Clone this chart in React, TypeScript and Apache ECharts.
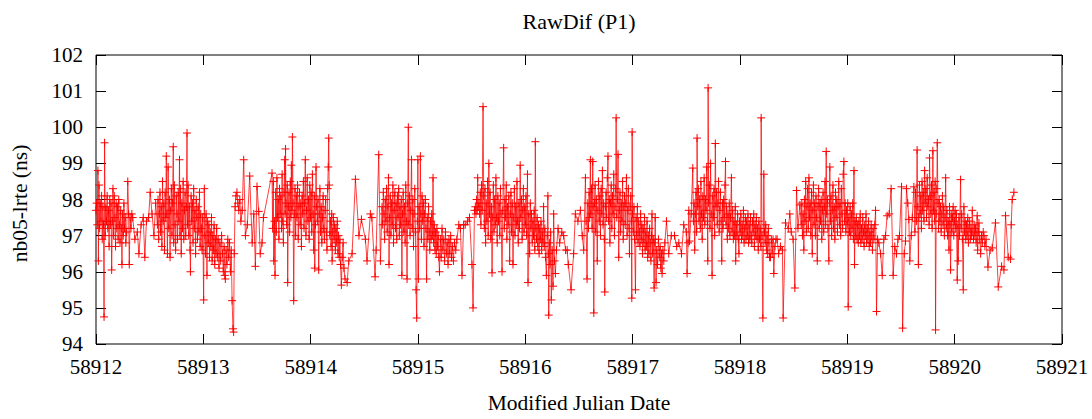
import React, { useEffect, useRef } from "react";
import * as echarts from "echarts";

// Reference epoch (MJD) and axis ranges
const MJD0 = 58912;
const xRange = [58912, 58921];
const yRange = [94, 102];
const title = "RawDif (P1)";
const xTitle = "Modified Julian Date";
const yTitle = "nb05-lrte (ns)";

// [days since MJD0, value in ns]
const day0 = [
  [0.000,97.7],[0.006,97.9],[0.012,97.3],[0.018,98.8],[0.022,96.3],[0.028,98.4],[0.034,97.2],[0.040,97.9],[0.046,97.4],[0.052,98.1],[0.058,96.9],[0.064,97.8],[0.070,97.3],[0.075,94.75],[0.080,99.57],[0.086,97.0],[0.092,97.8],[0.098,97.4],[0.104,98.1],[0.110,97.2],[0.116,97.7],[0.122,96.7],[0.128,98.0],[0.134,97.3],[0.140,97.9],[0.146,96.05],[0.152,97.4],[0.158,98.3],[0.164,97.0],[0.170,98.1],[0.176,97.5],[0.182,96.7],[0.188,97.9],[0.194,97.2],[0.200,97.8],[0.206,96.9],[0.212,98.0],[0.218,97.3],[0.224,96.8],[0.230,97.7],[0.236,97.2],[0.242,96.2],[0.248,97.6],[0.254,97.0],[0.260,97.9],[0.266,97.2],[0.272,97.5],[0.278,96.8],[0.286,97.1],[0.296,98.5],[0.304,97.6],[0.310,96.2],[0.318,97.5],[0.326,97.2],[0.334,97.6],[0.342,97.5],
  [0.362,96.9],[0.385,97.1],[0.400,96.5],[0.420,97.3],[0.440,97.5],[0.455,96.4],[0.470,97.4],[0.490,97.5],[0.505,98.2],[0.522,97.6],[0.540,97.0],[0.556,97.9],
  [0.572,97.3],[0.578,98.0],[0.584,96.9],[0.590,97.6],[0.596,98.2],[0.602,97.1],[0.608,97.8],[0.614,96.7],[0.620,98.5],[0.626,97.4],[0.632,97.9],[0.638,96.6],[0.644,98.2],[0.650,97.5],[0.655,99.2],[0.660,97.6],[0.666,96.5],[0.672,98.9],[0.678,97.2],[0.684,98.0],[0.690,96.4],[0.696,97.7],[0.702,98.3],[0.708,97.0],[0.714,97.9],[0.720,99.46],[0.724,96.8],[0.730,98.4],[0.736,97.3],[0.742,96.6],[0.748,98.1],[0.754,97.6],[0.760,96.9],[0.766,98.2],[0.772,97.4],[0.778,99.1],[0.782,97.0],[0.788,98.3],[0.794,96.5],[0.800,97.9],[0.806,97.2],[0.812,98.5],[0.818,96.9],[0.824,97.7],[0.830,98.2],[0.836,97.0],[0.842,97.8],[0.848,99.84],[0.852,97.3],[0.858,98.4],[0.864,97.0],[0.870,97.8],[0.876,96.6],[0.880,96.0],[0.886,98.1],[0.892,97.4],[0.898,97.9],[0.904,96.8],[0.910,98.3],[0.916,97.2],[0.922,97.7],[0.928,96.5],[0.934,98.0],[0.940,97.5],[0.946,96.9],[0.952,97.8],[0.958,97.1],[0.964,98.2],[0.970,96.7],[0.976,97.6],[0.982,97.2],[0.988,96.6],[0.994,97.5],
];
const day1 = [
  [1.003,95.22],[1.009,98.3],[1.014,97.0],[1.020,96.5],[1.026,97.6],[1.034,95.9],[1.040,97.4],[1.046,96.8],[1.052,97.3],[1.058,96.4],[1.064,97.1],[1.070,96.7],[1.076,97.5],[1.082,96.3],[1.088,97.0],[1.094,96.6],[1.100,97.3],[1.106,96.2],[1.112,96.9],[1.118,96.5],[1.124,97.2],[1.130,96.4],[1.138,96.9],[1.146,96.1],[1.154,96.8],[1.162,96.3],[1.170,97.0],[1.178,96.5],[1.186,96.0],[1.194,96.7],[1.200,95.9],[1.205,95.8],[1.212,96.6],[1.220,96.2],[1.228,96.9],[1.236,96.4],[1.244,96.8],[1.252,96.0],[1.260,96.6],[1.268,95.2],[1.276,94.42],[1.282,94.33],[1.288,96.5],[1.296,97.8],[1.304,98.1],[1.313,98.2],[1.322,97.9],[1.330,97.7],[1.340,98.0],[1.350,97.4],[1.362,97.7],[1.376,99.1],[1.392,97.0],[1.410,97.3],[1.432,98.65],[1.455,96.8],[1.470,97.6],[1.485,96.15],[1.500,98.36],[1.516,97.67],[1.530,96.5],[1.547,96.8],[1.560,97.5],
  [1.640,98.73],[1.646,97.2],[1.652,98.5],[1.656,96.3],[1.662,97.4],[1.668,95.9],[1.674,98.2],[1.680,97.1],[1.686,98.6],[1.692,97.5],[1.698,98.0],[1.704,96.9],[1.710,98.3],[1.716,97.6],[1.722,98.1],[1.728,97.2],[1.734,98.7],[1.740,97.4],[1.746,96.8],[1.752,98.2],[1.758,99.1],[1.762,97.6],[1.766,99.4],[1.770,97.9],[1.776,97.3],[1.782,98.4],[1.786,95.7],[1.792,97.8],[1.798,98.2],[1.804,97.1],[1.810,98.5],[1.816,97.5],[1.820,98.95],[1.826,97.7],[1.830,99.73],[1.836,97.9],[1.842,95.2],[1.848,97.6],[1.854,98.3],[1.860,97.0],[1.866,98.1],[1.872,97.5],[1.878,98.4],[1.884,96.9],[1.890,97.8],[1.896,98.2],[1.902,97.3],[1.908,97.9],[1.914,96.7],[1.920,98.1],[1.926,97.6],[1.932,98.5],[1.938,97.2],[1.944,97.9],[1.950,99.1],[1.956,97.0],[1.962,97.7],[1.968,98.6],[1.974,97.4],[1.980,98.0],[1.986,96.9],[1.992,98.4],[1.998,97.5],
];
const day2 = [
  [2.004,98.2],[2.010,97.1],[2.016,98.7],[2.022,97.6],[2.028,96.6],[2.034,98.1],[2.038,96.1],[2.044,97.3],[2.050,98.9],[2.056,97.8],[2.062,97.4],[2.068,98.0],[2.075,96.05],[2.080,97.6],[2.086,98.3],[2.092,97.1],[2.098,97.8],[2.104,96.8],[2.110,97.5],[2.116,98.1],[2.122,97.2],[2.128,96.9],[2.134,97.7],[2.140,98.0],[2.146,97.1],[2.152,96.6],[2.158,98.3],[2.164,98.9],[2.168,99.7],[2.172,98.4],[2.178,97.0],[2.184,97.4],[2.190,96.7],[2.196,97.6],[2.200,96.3],[2.206,97.1],[2.212,97.5],[2.218,96.9],[2.224,97.3],[2.230,96.6],[2.236,97.2],[2.242,96.8],[2.248,97.4],[2.254,96.5],[2.260,97.0],[2.266,96.4],[2.272,96.9],[2.278,96.2],[2.286,95.63],[2.294,96.4],[2.302,96.8],[2.310,96.1],[2.320,95.8],[2.340,95.7],[2.355,96.3],[2.386,96.5],[2.417,98.56],[2.450,97.0],[2.473,97.45],[2.510,96.9],[2.525,96.3],[2.556,97.6],[2.570,97.5],[2.600,95.86],[2.610,96.6],[2.634,99.24],[2.650,96.3],[2.665,97.8],
  [2.671,97.3],[2.677,98.2],[2.683,97.6],[2.689,96.9],[2.695,98.0],[2.701,97.4],[2.707,98.3],[2.713,97.1],[2.719,97.8],[2.725,98.6],[2.730,96.2],[2.736,97.5],[2.742,98.1],[2.748,97.0],[2.754,97.9],[2.760,97.3],[2.766,98.4],[2.772,96.8],[2.778,97.7],[2.784,98.2],[2.790,97.2],[2.796,97.9],[2.802,96.9],[2.808,98.1],[2.814,97.5],[2.820,98.3],[2.826,97.0],[2.832,97.8],[2.838,97.3],[2.844,98.0],[2.850,95.9],[2.856,97.6],[2.862,98.2],[2.868,97.1],[2.874,97.8],[2.880,96.8],[2.886,98.4],[2.892,97.4],[2.898,95.8],[2.904,97.9],[2.910,100.0],[2.914,97.3],[2.920,98.1],[2.926,97.0],[2.932,97.7],[2.940,99.1],[2.946,97.2],[2.952,98.0],[2.958,96.7],[2.964,97.6],[2.970,98.3],[2.976,97.1],[2.982,95.5],[2.988,94.72],[2.994,97.4],[2.999,99.1],
];
const day3 = [
  [3.004,95.8],[3.010,97.8],[3.016,97.2],[3.022,99.2],[3.026,97.6],[3.032,96.9],[3.038,98.1],[3.044,97.4],[3.050,97.9],[3.056,96.7],[3.062,97.6],[3.068,98.0],[3.074,97.2],[3.080,95.8],[3.086,97.5],[3.092,96.9],[3.098,97.8],[3.104,97.1],[3.110,96.6],[3.116,97.4],[3.122,96.9],[3.128,97.6],[3.134,97.0],[3.140,98.6],[3.146,96.8],[3.152,97.3],[3.158,96.6],[3.164,97.1],[3.170,96.5],[3.176,97.2],[3.182,96.7],[3.188,97.0],[3.194,96.4],[3.200,96.0],[3.208,96.9],[3.216,96.4],[3.224,97.2],[3.232,96.6],[3.240,96.9],[3.248,96.3],[3.256,97.1],[3.264,96.5],[3.272,96.8],[3.280,96.2],[3.288,96.9],[3.296,96.5],[3.304,97.0],[3.312,96.4],[3.320,96.7],[3.330,96.3],[3.340,96.8],[3.352,96.6],[3.362,96.9],[3.380,97.3],[3.395,97.2],[3.410,95.9],[3.425,97.3],[3.440,97.3],[3.462,97.4],[3.480,97.5],[3.503,96.2],[3.513,95.0],[3.526,97.7],[3.534,97.8],
  [3.540,97.6],[3.546,98.0],[3.552,97.7],[3.556,98.6],[3.562,97.8],[3.568,97.9],[3.574,97.6],[3.580,98.2],[3.586,97.3],[3.592,98.4],[3.598,97.7],[3.606,100.57],[3.612,98.1],[3.618,97.2],[3.624,98.3],[3.630,96.8],[3.636,97.9],[3.642,97.4],[3.648,98.5],[3.654,97.0],[3.660,99.0],[3.666,97.6],[3.672,98.2],[3.678,96.9],[3.684,97.8],[3.690,95.97],[3.696,97.5],[3.702,98.4],[3.708,97.1],[3.714,98.0],[3.720,97.3],[3.726,98.6],[3.732,97.5],[3.738,96.8],[3.744,98.1],[3.750,97.4],[3.756,97.9],[3.762,97.0],[3.768,98.3],[3.774,97.6],[3.783,96.0],[3.790,97.7],[3.798,99.43],[3.804,97.2],[3.810,98.0],[3.816,97.5],[3.822,98.4],[3.828,96.9],[3.834,97.8],[3.840,97.3],[3.846,98.1],[3.854,96.3],[3.860,97.6],[3.866,98.2],[3.872,97.1],[3.878,97.9],[3.885,96.2],[3.892,97.5],[3.898,98.3],[3.904,97.0],[3.910,97.8],[3.916,97.3],[3.922,98.5],[3.928,97.4],[3.934,96.8],[3.940,97.9],[3.946,97.2],[3.952,98.95],[3.958,97.5],[3.964,98.0],[3.970,96.9],[3.976,97.7],[3.982,98.3],[3.988,97.1],[3.994,97.8],
];
const day4 = [
  [4.000,97.3],[4.006,98.1],[4.012,97.0],[4.020,98.7],[4.025,95.7],[4.032,97.6],[4.040,96.5],[4.046,97.9],[4.052,97.2],[4.058,97.6],[4.064,96.8],[4.070,97.4],[4.076,97.0],[4.082,97.7],[4.088,96.6],[4.093,99.6],[4.098,97.2],[4.104,96.9],[4.110,97.5],[4.116,96.7],[4.122,97.3],[4.128,96.5],[4.134,97.2],[4.140,96.9],[4.146,97.4],[4.152,96.6],[4.158,97.1],[4.164,96.8],[4.170,97.8],[4.176,96.7],[4.182,97.2],[4.188,96.4],[4.196,95.9],[4.204,97.0],[4.210,98.1],[4.214,96.5],[4.218,94.8],[4.224,96.8],[4.230,96.2],[4.236,97.1],[4.242,95.22],[4.250,96.6],[4.258,95.6],[4.264,97.6],[4.272,96.3],[4.280,95.95],[4.290,96.6],[4.305,97.2],[4.320,96.8],[4.340,97.1],[4.357,97.0],[4.375,96.6],[4.390,96.6],[4.400,96.2],[4.426,95.5],[4.450,96.5],[4.466,97.6],[4.490,97.4],[4.513,97.7],[4.530,97.0],[4.544,96.6],[4.560,98.6],[4.566,97.4],[4.575,95.8],[4.582,97.9],[4.588,97.2],[4.594,98.2],[4.600,97.5],[4.606,99.1],
  [4.610,97.6],[4.616,98.3],[4.622,97.2],[4.628,99.05],[4.632,97.8],[4.638,94.86],[4.644,97.9],[4.650,98.4],[4.656,97.1],[4.662,98.0],[4.670,96.3],[4.676,97.7],[4.682,98.5],[4.688,97.4],[4.694,98.1],[4.700,97.0],[4.706,98.3],[4.712,97.6],[4.718,98.8],[4.724,97.3],[4.730,97.9],[4.736,96.9],[4.740,95.44],[4.746,97.8],[4.752,98.2],[4.758,97.5],[4.764,98.6],[4.770,99.2],[4.776,97.4],[4.782,98.0],[4.788,96.8],[4.794,97.9],[4.800,98.4],[4.806,97.2],[4.812,98.1],[4.818,97.6],[4.824,98.7],[4.830,97.0],[4.836,97.8],[4.842,98.3],[4.846,100.26],[4.852,97.5],[4.858,98.0],[4.864,99.25],[4.870,96.4],[4.876,97.7],[4.882,98.2],[4.888,97.1],[4.894,97.9],[4.900,97.4],[4.906,98.5],[4.912,96.9],[4.918,97.8],[4.924,98.1],[4.930,97.3],[4.936,97.9],[4.942,98.6],[4.948,97.0],[4.954,97.7],[4.960,98.3],[4.966,97.2],[4.970,96.5],[4.976,97.8],[4.982,98.1],[4.988,97.4],[4.992,95.27],[4.995,99.87],[4.999,97.6],
];
const day5 = [
  [5.006,97.1],[5.012,97.8],[5.018,96.9],[5.026,95.5],[5.032,97.5],[5.038,97.0],[5.044,97.8],[5.050,96.8],[5.056,97.4],[5.062,97.1],[5.068,96.7],[5.074,97.6],[5.080,96.9],[5.086,97.3],[5.092,96.5],[5.098,97.2],[5.104,96.8],[5.110,97.5],[5.116,96.6],[5.122,97.1],[5.128,96.7],[5.134,97.4],[5.140,96.4],[5.146,97.0],[5.152,96.5],[5.158,97.2],[5.164,96.8],[5.170,96.3],[5.176,97.0],[5.180,97.6],[5.186,96.5],[5.192,96.9],[5.200,95.55],[5.206,96.8],[5.210,97.5],[5.218,95.7],[5.224,96.6],[5.232,96.2],[5.240,96.9],[5.248,96.4],[5.256,96.7],[5.262,96.1],[5.268,96.5],[5.274,95.95],[5.282,96.6],[5.290,96.3],[5.300,96.8],[5.315,97.4],[5.336,96.5],[5.360,97.0],[5.390,97.0],[5.410,96.7],[5.430,96.8],[5.455,96.5],[5.476,97.3],[5.500,97.1],[5.507,95.95],[5.516,96.8],[5.523,97.7],[5.530,96.85],[5.545,97.6],[5.560,98.87],
  [5.566,97.4],[5.572,97.9],[5.578,96.6],[5.584,97.6],[5.590,98.2],[5.596,97.1],[5.600,99.7],[5.606,97.8],[5.612,98.3],[5.618,97.4],[5.624,98.0],[5.630,97.2],[5.636,98.5],[5.642,97.6],[5.648,96.9],[5.654,98.1],[5.660,97.5],[5.666,98.6],[5.672,97.3],[5.678,98.0],[5.684,97.7],[5.690,98.9],[5.696,97.4],[5.700,96.3],[5.703,101.09],[5.708,97.9],[5.714,98.4],[5.720,97.2],[5.726,99.0],[5.732,97.6],[5.740,95.9],[5.746,98.1],[5.752,97.5],[5.758,98.3],[5.764,97.0],[5.770,99.55],[5.776,97.8],[5.782,98.2],[5.788,97.3],[5.794,97.9],[5.800,98.5],[5.806,97.1],[5.812,97.7],[5.818,98.2],[5.824,97.4],[5.830,96.3],[5.836,97.9],[5.842,97.2],[5.848,98.0],[5.854,97.5],[5.860,98.4],[5.865,99.05],[5.870,97.3],[5.876,97.8],[5.882,96.9],[5.888,97.6],[5.894,97.2],[5.900,97.9],[5.906,97.0],[5.912,97.5],[5.920,98.6],[5.926,97.1],[5.932,97.7],[5.938,96.9],[5.944,97.4],[5.950,97.0],[5.956,97.8],[5.960,96.3],[5.966,97.3],[5.972,97.0],[5.978,97.6],[5.984,96.9],[5.990,96.5],[5.996,97.4],
];
const day6 = [
  [6.002,97.1],[6.008,97.6],[6.014,96.9],[6.020,97.3],[6.026,97.0],[6.032,97.7],[6.038,96.8],[6.044,97.2],[6.050,97.5],[6.056,96.9],[6.062,97.4],[6.068,97.0],[6.074,97.6],[6.080,96.8],[6.086,97.3],[6.092,96.9],[6.098,97.5],[6.104,97.0],[6.110,96.8],[6.116,97.4],[6.122,97.1],[6.128,97.6],[6.134,96.7],[6.140,97.3],[6.146,97.0],[6.152,97.5],[6.158,96.9],[6.164,97.2],[6.170,96.6],[6.176,97.4],[6.182,96.9],[6.188,97.2],[6.194,96.7],[6.197,100.26],[6.205,97.0],[6.213,94.72],[6.222,98.7],[6.228,97.1],[6.234,96.8],[6.240,97.3],[6.246,96.6],[6.252,97.0],[6.258,96.5],[6.264,97.2],[6.270,96.8],[6.276,96.4],[6.284,96.4],[6.292,96.9],[6.300,96.5],[6.308,96.9],[6.315,95.95],[6.325,96.7],[6.335,96.9],[6.346,96.9],[6.360,96.5],[6.377,96.7],[6.395,96.6],[6.402,94.72],[6.424,97.35],[6.450,97.2],[6.464,97.6],[6.477,97.1],[6.495,96.9],[6.511,95.55],[6.527,98.25],[6.540,97.2],[6.558,97.85],
  [6.570,97.3],[6.576,97.9],[6.582,97.0],[6.588,97.6],[6.595,96.6],[6.600,98.0],[6.606,97.4],[6.612,98.5],[6.618,97.1],[6.624,97.8],[6.630,98.3],[6.636,97.2],[6.642,98.6],[6.648,97.5],[6.654,97.9],[6.660,97.0],[6.666,98.2],[6.673,96.5],[6.678,97.7],[6.684,98.4],[6.690,97.3],[6.696,97.9],[6.702,97.0],[6.708,98.1],[6.714,97.5],[6.720,96.3],[6.726,97.8],[6.732,98.3],[6.738,97.2],[6.744,97.9],[6.750,97.4],[6.756,98.0],[6.762,96.9],[6.768,97.7],[6.774,98.2],[6.780,97.1],[6.786,97.8],[6.792,98.5],[6.798,97.3],[6.803,99.33],[6.808,97.6],[6.814,98.0],[6.820,97.2],[6.828,96.3],[6.832,97.9],[6.837,98.9],[6.842,97.4],[6.848,98.1],[6.854,97.0],[6.860,97.7],[6.866,98.4],[6.872,97.2],[6.878,97.8],[6.884,96.9],[6.890,98.2],[6.896,97.5],[6.902,98.0],[6.908,97.1],[6.914,97.8],[6.920,98.5],[6.926,97.3],[6.932,97.9],[6.938,97.0],[6.944,98.3],[6.950,97.6],[6.956,97.2],[6.962,98.7],[6.968,99.05],[6.974,97.4],[6.980,97.9],[6.986,97.1],[6.992,97.7],[6.998,97.3],
];
const day7 = [
  [7.004,97.9],[7.008,95.03],[7.014,97.5],[7.020,97.1],[7.026,97.8],[7.032,97.0],[7.038,97.6],[7.044,97.2],[7.050,97.9],[7.056,96.9],[7.062,98.8],[7.067,96.2],[7.072,97.4],[7.078,97.0],[7.084,97.5],[7.090,96.9],[7.096,97.3],[7.102,96.8],[7.108,97.4],[7.114,97.0],[7.120,97.6],[7.126,96.8],[7.132,97.2],[7.138,96.9],[7.144,97.5],[7.150,97.1],[7.156,96.7],[7.162,97.3],[7.168,97.0],[7.174,97.6],[7.180,96.8],[7.186,97.2],[7.192,96.9],[7.198,97.4],[7.204,96.7],[7.210,97.1],[7.216,96.8],[7.222,97.3],[7.228,97.0],[7.234,96.6],[7.240,97.2],[7.248,96.9],[7.256,97.3],[7.263,97.7],[7.272,94.9],[7.282,96.9],[7.294,96.8],[7.310,96.5],[7.325,95.9],[7.340,96.9],[7.356,97.0],[7.371,97.55],[7.390,97.6],[7.408,98.3],[7.427,95.9],[7.442,96.7],[7.458,96.5],[7.472,96.9],[7.486,97.0],[7.505,98.35],[7.515,94.44],[7.530,96.5],[7.542,96.85],[7.551,98.3],[7.563,97.9],[7.573,97.45],[7.582,96.3],[7.595,97.0],[7.605,97.5],[7.620,98.35],[7.630,97.1],[7.635,98.2],[7.643,97.4],[7.650,99.37],[7.656,97.8],[7.662,96.2],[7.666,97.5],[7.672,98.4],[7.678,97.6],[7.684,98.1],[7.690,97.2],[7.696,98.5],[7.702,97.7],[7.708,98.2],[7.714,97.4],[7.720,98.8],[7.726,97.9],[7.732,98.3],[7.738,97.5],[7.744,98.6],[7.750,97.8],[7.756,98.0],[7.762,97.3],[7.766,99.15],[7.772,98.1],[7.778,97.6],[7.784,98.4],[7.790,97.2],[7.797,99.35],[7.802,97.7],[7.808,98.2],[7.814,97.4],[7.818,98.5],[7.822,94.39],[7.828,97.6],[7.834,98.3],[7.838,99.57],[7.844,97.9],[7.850,97.2],[7.856,98.0],[7.862,97.4],[7.868,97.8],[7.874,97.1],[7.880,97.6],[7.886,98.1],[7.892,97.3],[7.898,97.8],[7.904,97.0],[7.910,97.5],[7.916,98.6],[7.922,97.2],[7.928,97.7],[7.934,97.0],[7.940,97.4],[7.947,96.6],[7.952,97.8],[7.957,97.3],[7.962,96.05],[7.968,97.6],[7.974,97.1],[7.980,97.5],[7.986,97.8],[7.992,97.0],[7.998,97.4],
];
const day8 = [
  [8.004,97.7],[8.010,97.2],[8.016,97.6],[8.024,95.77],[8.030,97.3],[8.033,96.3],[8.040,97.5],[8.046,97.0],[8.055,98.55],[8.060,97.2],[8.066,97.6],[8.072,96.9],[8.080,95.5],[8.086,97.8],[8.092,97.1],[8.098,97.4],[8.104,96.9],[8.110,97.3],[8.116,97.0],[8.122,97.5],[8.128,96.8],[8.134,97.2],[8.140,97.4],[8.146,96.9],[8.152,97.2],[8.158,97.0],[8.164,97.7],[8.170,97.1],[8.176,96.9],[8.182,97.3],[8.188,97.0],[8.194,97.2],[8.200,96.8],[8.210,97.55],[8.214,96.6],[8.220,97.1],[8.226,97.35],[8.234,96.9],[8.242,96.5],[8.250,97.0],[8.258,96.8],[8.266,97.1],[8.273,97.0],[8.282,96.7],[8.292,96.9],[8.310,96.13],[8.330,96.6],[8.350,96.66],[8.380,97.35],[8.406,95.58],[8.437,96.15],[8.459,96.05],[8.474,97.55],[8.499,96.4],[8.521,96.35],[8.527,97.3],[8.536,98.0],[8.552,98.2],
];

const FONT = "Liberation Serif";
const W = 1092;
const H = 419;
const GRID = { left: 96, right: 30, top: 55, bottom: 75 };

export default function App() {
  const ref = useRef<HTMLDivElement>(null);

  useEffect(() => {
    if (!ref.current) return;
    const chart = echarts.init(ref.current, null, { renderer: "svg" });
    const points = [...day0, ...day1, ...day2, ...day3, ...day4, ...day5, ...day6, ...day7, ...day8].map(
      ([t, v]) => [MJD0 + t, v]
    );
    const plotCx = GRID.left + (W - GRID.left - GRID.right) / 2;
    const plotCy = GRID.top + (H - GRID.top - GRID.bottom) / 2;
    const tickStyle = { inside: true, length: 10, lineStyle: { color: "#000", width: 1 } };
    const labelStyle = { fontFamily: FONT, fontSize: 21, color: "#000" };
    const textStyle = { fontFamily: FONT, fontSize: 21.5, fill: "#000", align: "center", verticalAlign: "middle" };

    chart.setOption({
      animation: false,
      backgroundColor: "#fff",
      textStyle: { fontFamily: FONT },
      grid: { ...GRID, show: true, borderColor: "#000", borderWidth: 1, backgroundColor: "transparent" },
      xAxis: [
        {
          type: "value", min: xRange[0], max: xRange[1], interval: 1, position: "bottom",
          axisLine: { show: false }, axisTick: tickStyle, splitLine: { show: false },
          axisLabel: { ...labelStyle, margin: 12, formatter: (v: number) => String(v) },
        },
        {
          type: "value", min: xRange[0], max: xRange[1], interval: 1, position: "top",
          axisLine: { show: false }, axisTick: tickStyle, splitLine: { show: false },
          axisLabel: { show: false },
        },
      ],
      yAxis: [
        {
          type: "value", min: yRange[0], max: yRange[1], interval: 1, position: "left",
          axisLine: { show: false }, axisTick: tickStyle, splitLine: { show: false },
          axisLabel: { ...labelStyle, margin: 13 },
        },
        {
          type: "value", min: yRange[0], max: yRange[1], interval: 1, position: "right",
          axisLine: { show: false }, axisTick: tickStyle, splitLine: { show: false },
          axisLabel: { show: false },
        },
      ],
      series: [
        {
          type: "line",
          data: points,
          xAxisIndex: 0,
          yAxisIndex: 0,
          color: "#ff0000",
          symbol: "path://M0,5L10,5M5,0L5,10",
          symbolSize: 8,
          showSymbol: true,
          lineStyle: { color: "#ff0000", width: 1, opacity: 0.75 },
          itemStyle: { color: "#ff0000", borderColor: "#ff0000", borderWidth: 1 },
          emphasis: { disabled: true },
          silent: true,
        },
      ],
      graphic: [
        { type: "text", x: plotCx, y: 21, style: { ...textStyle, fontSize: 22, text: title } },
        { type: "text", x: plotCx, y: 403, style: { ...textStyle, text: xTitle } },
        { type: "text", x: 20, y: plotCy + 4, rotation: Math.PI / 2, style: { ...textStyle, text: yTitle } },
      ],
    });
    return () => chart.dispose();
  }, []);

  return (
    <div
      ref={ref}
      style={{ position: "fixed", left: 0, top: 0, width: W, height: H, background: "#fff" }}
    />
  );
}
